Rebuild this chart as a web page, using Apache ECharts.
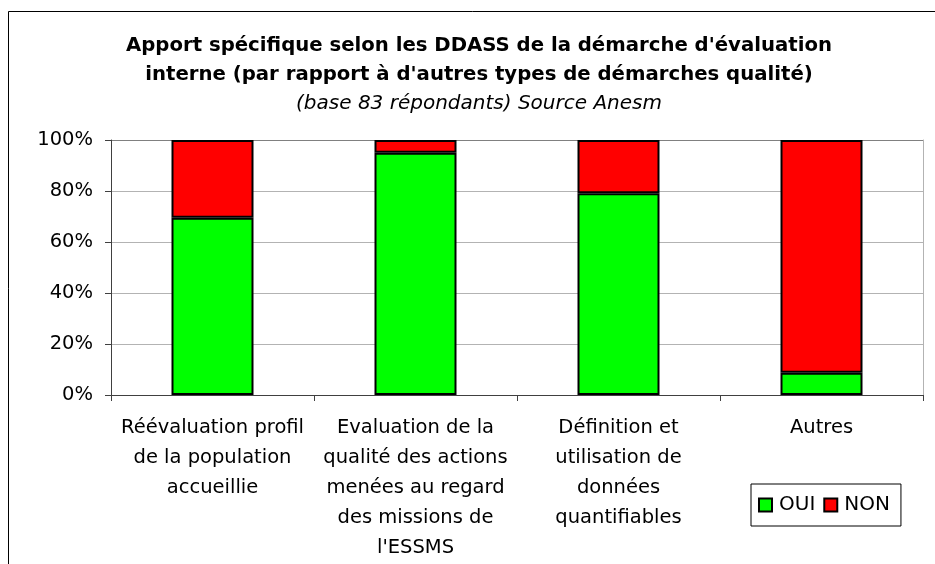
<!DOCTYPE html>
<html>
<head>
<meta charset="utf-8">
<script src="https://cdn.jsdelivr.net/npm/echarts@6/dist/echarts.min.js"></script>
<style>
html,body{margin:0;padding:0;background:#fff;}
#chart{width:935px;height:564px;}
</style>
</head>
<body>
<div id="chart"></div>
<script>
// Data
var categories = [
  "Réévaluation profil\nde la population\naccueillie",
  "Evaluation de la\nqualité des actions\nmenées au regard\ndes missions de\nl'ESSMS",
  "Définition et\nutilisation de\ndonnées\nquantifiables",
  "Autres"
];
var seriesNames = ["OUI", "NON"];
var ouiValues = [69.5, 95.0, 79.1, 8.7];
var nonValues = [30.5, 5.0, 20.9, 91.3];
var yTicks = [0, 20, 40, 60, 80, 100];

var FONT = "'DejaVu Sans', 'Liberation Sans', Arial, sans-serif";
var chart = echarts.init(document.getElementById('chart'), null, {renderer: 'canvas'});

var option = {
  backgroundColor: '#ffffff',
  animation: false,
  textStyle: {fontFamily: FONT, color: '#000'},
  title: {
    text: "Apport spécifique selon les DDASS de la démarche d'évaluation\ninterne (par rapport à d'autres types de démarches qualité)",
    subtext: "(base 83 répondants) Source Anesm",
    left: 479,
    textAlign: 'center',
    top: 31,
    itemGap: 0,
    padding: 0,
    textStyle: {fontFamily: FONT, fontSize: 19.7, fontWeight: 'bold', color: '#000', lineHeight: 29},
    subtextStyle: {fontFamily: FONT, fontSize: 20, fontStyle: 'italic', color: '#000', lineHeight: 29}
  },
  legend: {
    data: seriesNames,
    left: 751,
    top: 484,
    orient: 'horizontal',
    padding: [11, 11, 11, 7],
    itemGap: 8,
    itemWidth: 13,
    itemHeight: 13,
    icon: 'rect',
    backgroundColor: '#fff',
    borderColor: '#000',
    borderWidth: 1,
    borderRadius: 0,
    textStyle: {fontFamily: FONT, fontSize: 20, color: '#000', padding: [0, 0, 0, 2]}
  },
  grid: {left: 111, right: 12, top: 140, bottom: 169, containLabel: false},
  xAxis: {
    type: 'category',
    data: categories,
    axisLine: {lineStyle: {color: '#404040', width: 1}},
    axisTick: {show: true, length: 6, lineStyle: {color: '#404040'}},
    axisLabel: {
      interval: 0,
      margin: 18,
      fontFamily: FONT,
      fontSize: 19.5,
      lineHeight: 30,
      color: '#000',
      align: 'center'
    }
  },
  yAxis: [{
    type: 'value',
    min: 0,
    max: 100,
    interval: 20,
    axisLine: {show: true, lineStyle: {color: '#404040', width: 1}},
    axisTick: {show: true, length: 6, lineStyle: {color: '#404040'}},
    axisLabel: {
      margin: 18,
      fontFamily: FONT,
      fontSize: 19.5,
      color: '#000',
      formatter: function (v) { return yTicks.indexOf(v) >= 0 ? v + '%' : ''; }
    },
    splitLine: {show: true, lineStyle: {color: ['#b3b3b3', '#b3b3b3', '#b3b3b3', '#b3b3b3', '#b3b3b3', '#808080'], width: 1}}
  }, {
    type: 'value',
    min: 0,
    max: 100,
    interval: 20,
    position: 'right',
    axisLine: {show: true, lineStyle: {color: '#b3b3b3', width: 1}},
    axisTick: {show: false},
    axisLabel: {show: false},
    splitLine: {show: false}
  }],
  series: [{
    name: seriesNames[0],
    type: 'bar',
    stack: 'total',
    barWidth: 82,
    data: ouiValues,
    itemStyle: {color: '#00ff00', borderColor: '#000', borderWidth: 2}
  }, {
    name: seriesNames[1],
    type: 'bar',
    stack: 'total',
    barWidth: 82,
    data: nonValues,
    itemStyle: {color: '#ff0000', borderColor: '#000', borderWidth: 2}
  }],
  graphic: [{
    type: 'rect',
    silent: true,
    z: -1,
    shape: {x: 8.5, y: 11.5, width: 1000, height: 1000},
    style: {fill: 'none', stroke: '#000', lineWidth: 1}
  }]
};
chart.setOption(option);
</script>
</body>
</html>
